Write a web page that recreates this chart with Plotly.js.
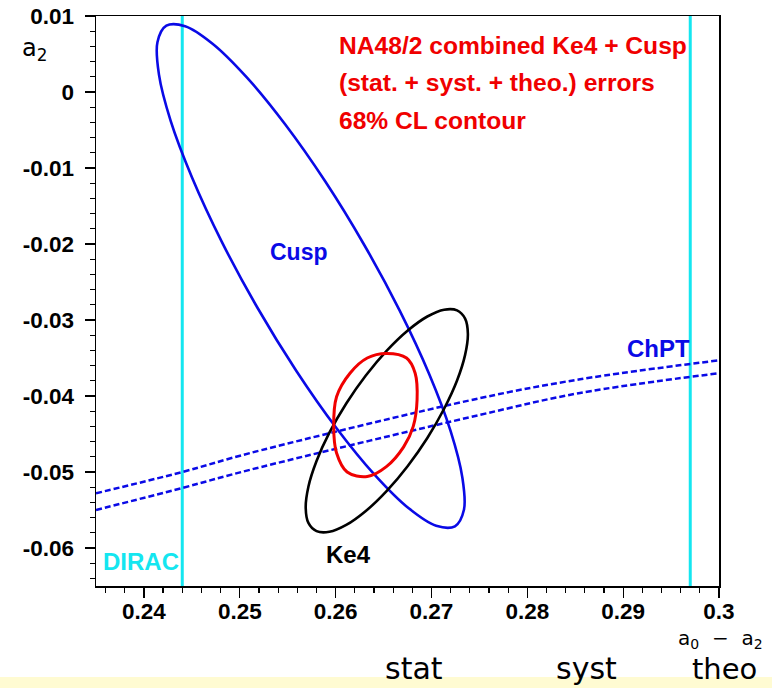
<!DOCTYPE html>
<html>
<head>
<meta charset="utf-8">
<script src="https://cdn.plot.ly/plotly-3.0.1.min.js"></script>
<style>html,body{margin:0;padding:0;background:#fff;}#chart{width:772px;height:688px;}</style>
</head>
<body>
<div id="chart"></div>
<script>
// ---- data (a0 - a2 , a2) ----
const cuspX = [0.25180,0.24809,0.24503,0.24279,0.24157,0.24141,0.24234,0.24430,0.24716,0.25071,0.25471,0.25891,0.26299,0.26670,0.26977,0.27200,0.27322,0.27339,0.27245,0.27049,0.26763,0.26408,0.26008,0.25589,0.25180];
const cuspY = [-0.02829,-0.01962,-0.01128,-0.00380,0.00228,0.00655,0.00872,0.00866,0.00636,0.00196,-0.00421,-0.01175,-0.02013,-0.02880,-0.03714,-0.04462,-0.05070,-0.05497,-0.05714,-0.05708,-0.05478,-0.05038,-0.04421,-0.03667,-0.02829];

const ke4X = [0.26957,0.26753,0.26534,0.26315,0.26111,0.25935,0.25801,0.25716,0.25688,0.25716,0.25801,0.25935,0.26111,0.26315,0.26534,0.26753,0.26957,0.27132,0.27267,0.27351,0.27380,0.27351,0.27267,0.27132,0.26957];
const ke4Y = [-0.04552,-0.04920,-0.05248,-0.05513,-0.05697,-0.05787,-0.05778,-0.05670,-0.05470,-0.05193,-0.04856,-0.04483,-0.04099,-0.03731,-0.03403,-0.03138,-0.02954,-0.02864,-0.02873,-0.02981,-0.03181,-0.03459,-0.03796,-0.04168,-0.04552];

const combX = [0.2685,0.2681,0.2671,0.2653,0.2633,0.2612,0.2601,0.2598,0.2601,0.2615,0.2633,0.2653,0.2674,0.2683,0.2685];
const combY = [-0.0405,-0.0440,-0.0467,-0.0493,-0.0506,-0.0500,-0.0475,-0.0440,-0.0401,-0.0370,-0.0350,-0.0344,-0.0350,-0.0370,-0.0405];

const chptX = [0.235,0.2440,0.2511,0.2750,0.2855,0.300];
const chptUpperY = [-0.0528,-0.0500,-0.0475,-0.0403,-0.0378,-0.0353];
const chptLowerY = [-0.0550,-0.0521,-0.0497,-0.0425,-0.0396,-0.0370];

const diracBounds = [0.244, 0.297];

const xTickVals = [0.24,0.25,0.26,0.27,0.28,0.29,0.30];
const xTickText = ['0.24','0.25','0.26','0.27','0.28','0.29','0.3'];
const yTickVals = [0.01,0,-0.01,-0.02,-0.03,-0.04,-0.05,-0.06];
const yTickText = ['0.01','0','-0.01','-0.02','-0.03','-0.04','-0.05','-0.06'];

const infoLines = ['NA48/2 combined Ke4 + Cusp','(stat. + syst. + theo.) errors','68% CL contour'];
const errorLabels = ['stat','syst','theo'];

// ---- styling ----
const BLUE = '#0a0ae6', RED = '#f00000', CYAN = '#14e6f0';
const F = 'Liberation Sans, Arial, sans-serif';
const CF = 'DejaVu Sans, sans-serif';

const traces = [
  {x: chptX, y: chptUpperY, mode:'lines', line:{color:BLUE, width:2.5, dash:'6px,3px', shape:'spline'}, hoverinfo:'skip'},
  {x: chptX, y: chptLowerY, mode:'lines', line:{color:BLUE, width:2.5, dash:'6px,3px', shape:'spline'}, hoverinfo:'skip'},
  {x: cuspX, y: cuspY, mode:'lines', line:{color:BLUE, width:2.6, shape:'spline', smoothing:1}, hoverinfo:'skip'},
  {x: ke4X, y: ke4Y, mode:'lines', line:{color:'#000000', width:2.6, shape:'spline', smoothing:1}, hoverinfo:'skip'},
  {x: combX, y: combY, mode:'lines', line:{color:RED, width:3, shape:'spline', smoothing:1}, hoverinfo:'skip'}
];

const shapes = diracBounds.map(b => ({type:'line', xref:'x', yref:'paper', x0:b, x1:b, y0:0, y1:1, line:{color:CYAN, width:3}, layer:'below'}));
// pale yellow band at the very bottom of the page
shapes.push({type:'rect', xref:'paper', yref:'paper', x0:-0.2, x1:1.2, y0:-0.19, y1:-0.1596, fillcolor:'#fffbd2', line:{width:0}, layer:'below'});

const annotations = [];
const C = {xanchor:'center', yanchor:'middle', showarrow:false};
infoLines.forEach((t,i) => annotations.push({text:t, xref:'x', yref:'y', x:0.2601, y:[0.0061,0.0012,-0.0038][i], xanchor:'left', yanchor:'middle', showarrow:false, font:{family:F, size:24.6, color:RED, weight:'bold'}}));
annotations.push(Object.assign({text:'Cusp', xref:'x', yref:'y', x:0.2562, y:-0.0211, font:{family:F, size:23, color:BLUE, weight:'bold'}}, C));
annotations.push(Object.assign({text:'ChPT', xref:'x', yref:'y', x:0.2937, y:-0.0337, font:{family:F, size:24, color:BLUE, weight:'bold'}}, C));
annotations.push(Object.assign({text:'Ke4', xref:'x', yref:'y', x:0.2613, y:-0.0608, font:{family:F, size:24, color:'#000', weight:'bold'}}, C));
annotations.push(Object.assign({text:'DIRAC', xref:'x', yref:'y', x:0.2397, y:-0.0618, font:{family:F, size:24, color:CYAN, weight:'bold'}}, C));
annotations.push({text:'a<sub>2</sub>', xref:'paper', yref:'paper', x:-0.1226, y:0.9404, xanchor:'left', yanchor:'middle', showarrow:false, font:{family:CF, size:24, color:'#000'}});
annotations.push(Object.assign({text:'a<sub>0</sub>&nbsp;&nbsp;−&nbsp;&nbsp;a<sub>2</sub>', xref:'paper', yref:'paper', x:1.0032, y:-0.0930, font:{family:CF, size:20, color:'#000'}}, C));
const labelX = [0.5104, 0.7877, 1.0096];
const labelY = [-0.1439, -0.1439, -0.1450];
const labelSize = [30, 30, 29];
errorLabels.forEach((t,i) => annotations.push(Object.assign({text:t, xref:'paper', yref:'paper', x:labelX[i], y:labelY[i], font:{family:CF, size:labelSize[i], color:'#000'}}, C)));

const axisCommon = {showgrid:false, zeroline:false, showline:true, mirror:true, linecolor:'#000', linewidth:1.5,
  ticks:'outside', ticklen:10, tickwidth:1.2, tickcolor:'#000', tickmode:'array',
  tickfont:{family:F, size:22.5, color:'#000', weight:'bold'}};

const layout = {
  width:772, height:688,
  margin:{l:95.5, r:52.5, t:16, b:102},
  paper_bgcolor:'#ffffff', plot_bgcolor:'#ffffff',
  showlegend:false,
  xaxis: Object.assign({}, axisCommon, {range:[0.235,0.300], tickvals:xTickVals, ticktext:xTickText, ticklabelstandoff:-6,
    minor:{tickmode:'linear', tick0:0, dtick:0.002, ticks:'outside', ticklen:5, tickcolor:'#000', tickwidth:1.2}}),
  yaxis: Object.assign({}, axisCommon, {range:[-0.065,0.010], tickvals:yTickVals, ticktext:yTickText, ticklabelstandoff:6,
    minor:{tickmode:'linear', tick0:0, dtick:0.002, ticks:'outside', ticklen:5, tickcolor:'#000', tickwidth:1.2}}),
  shapes: shapes,
  annotations: annotations
};

Plotly.newPlot('chart', traces, layout, {staticPlot:true, displayModeBar:false});
</script>
</body>
</html>
